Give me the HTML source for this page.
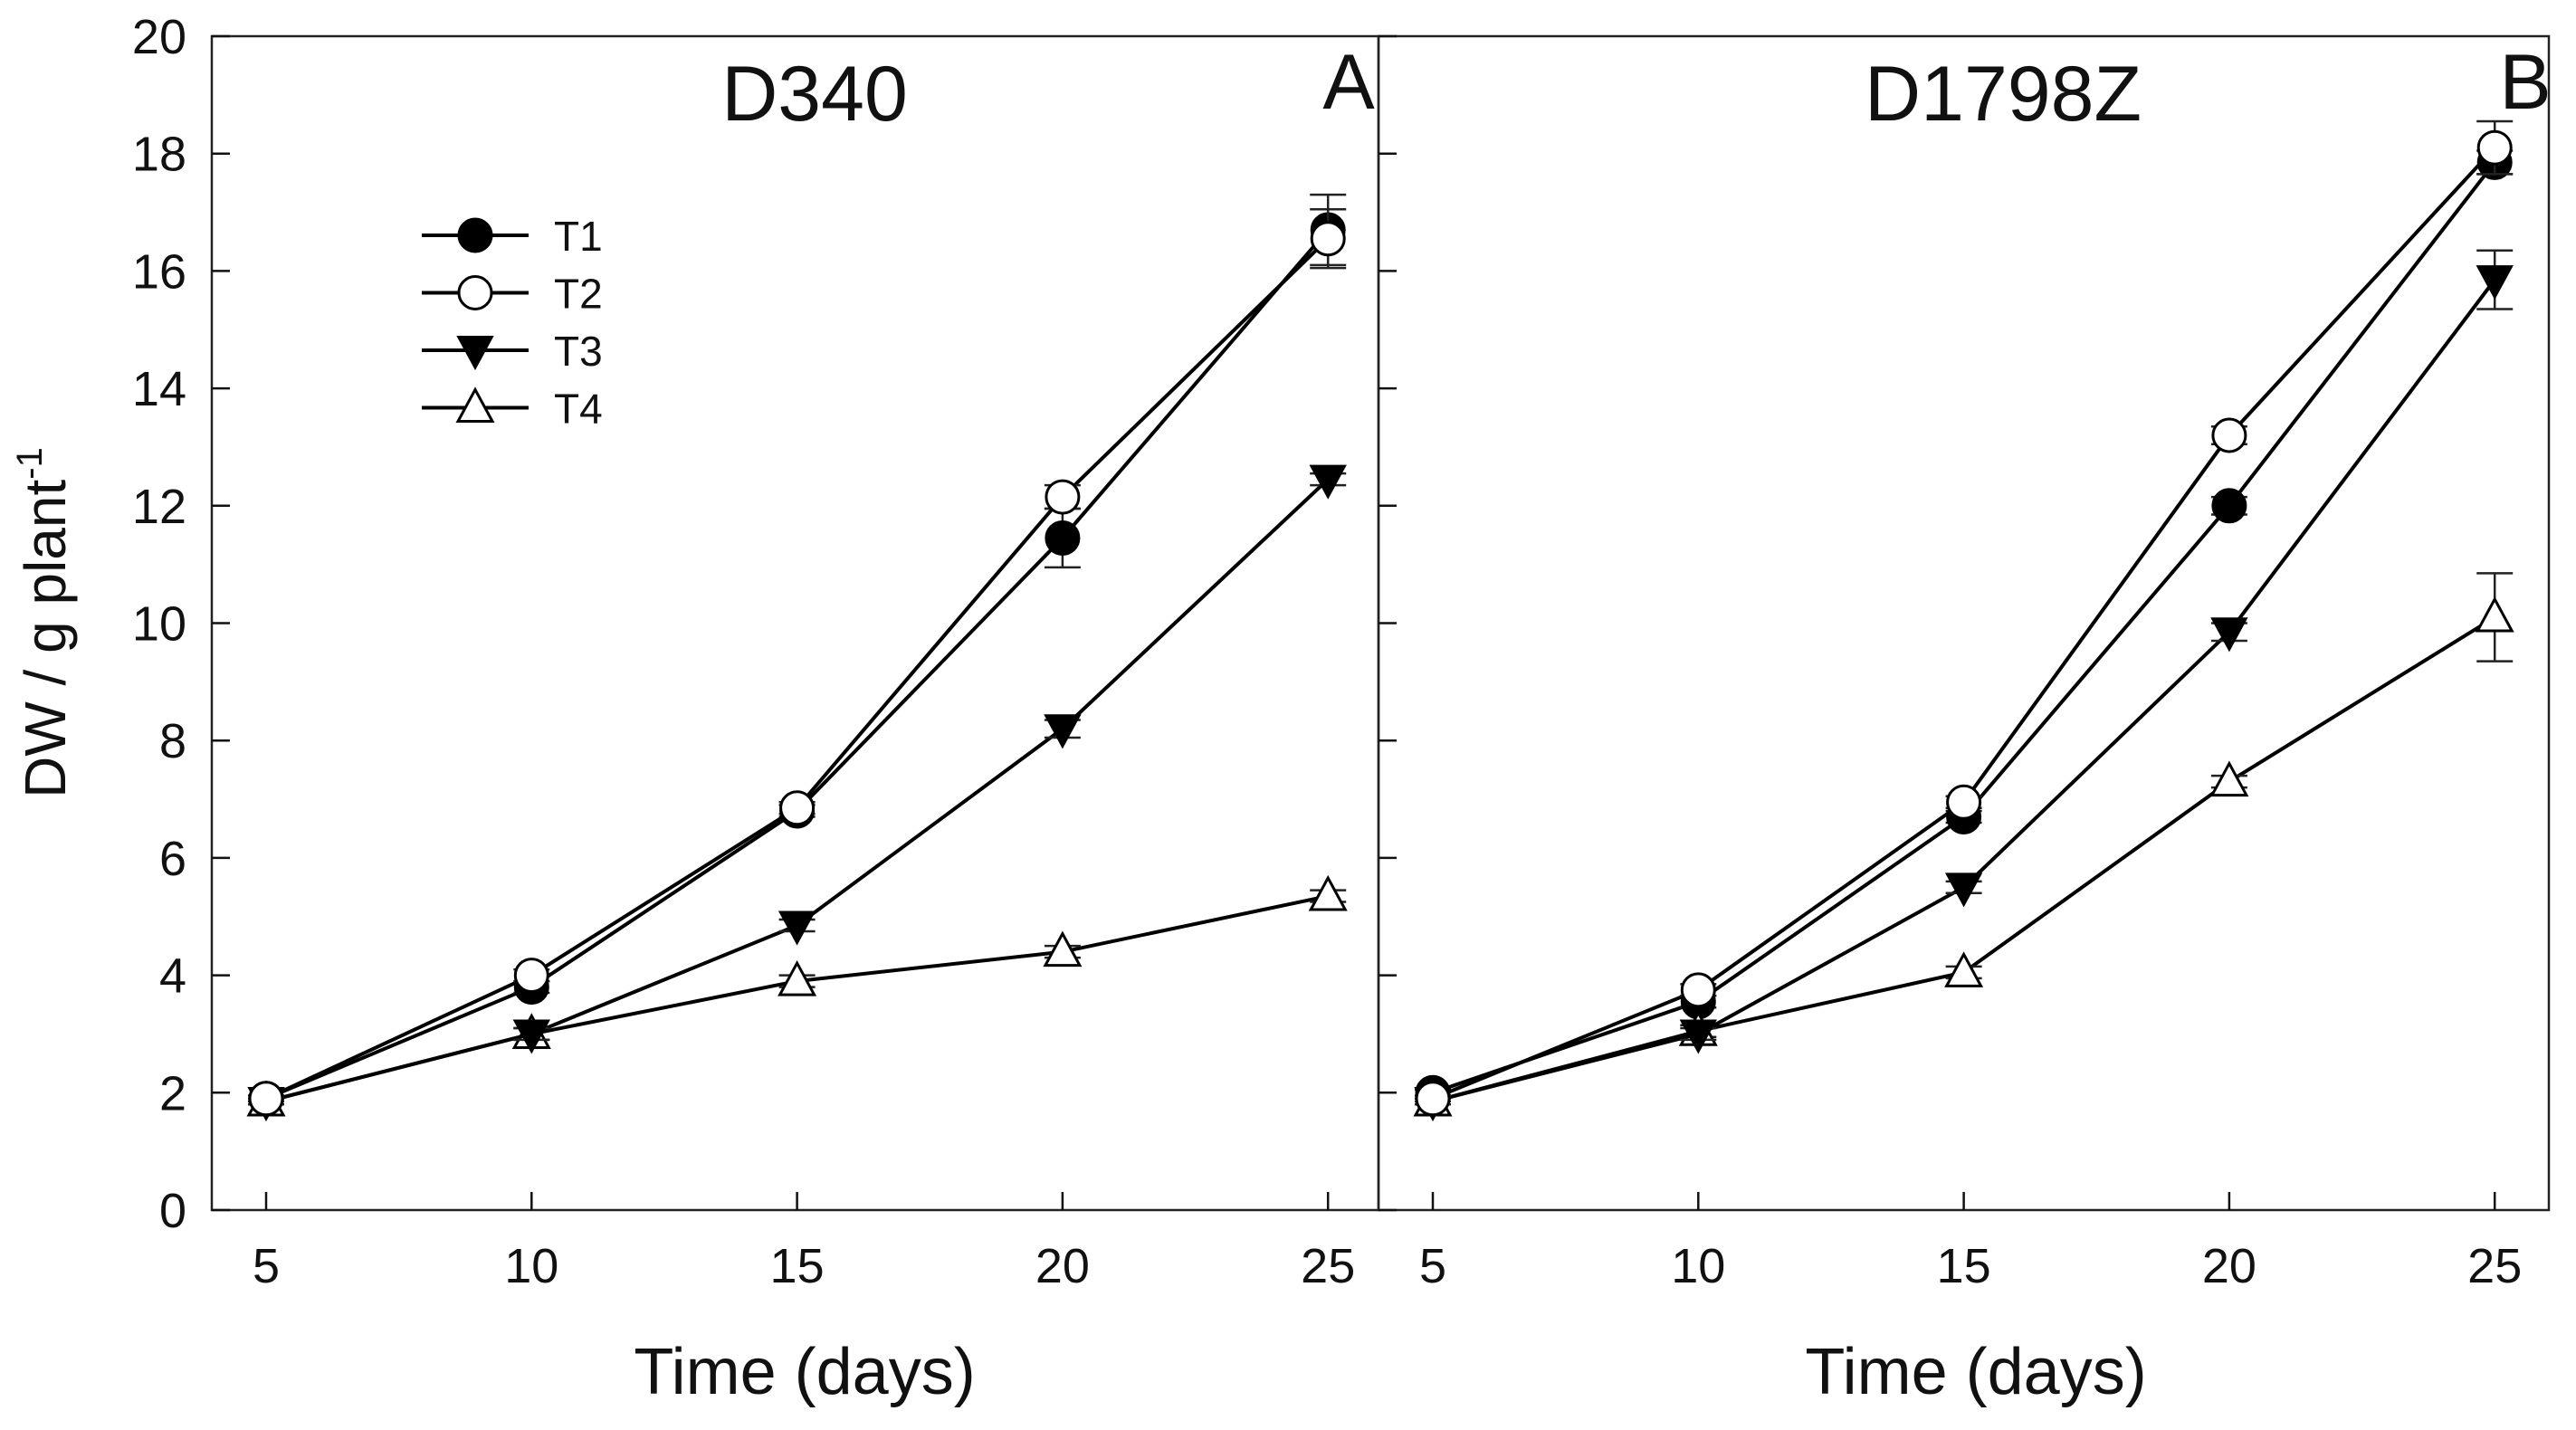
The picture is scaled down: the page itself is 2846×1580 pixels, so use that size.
<!DOCTYPE html>
<html><head><meta charset="utf-8"><style>
html,body{margin:0;padding:0;background:#fff}
svg{display:block;font-family:"Liberation Sans",sans-serif}
</style></head><body>
<svg id="chart" width="2846" height="1580" viewBox="0 0 2846 1580" xmlns="http://www.w3.org/2000/svg"></svg>
<script>
const days = [5, 10, 15, 20, 25];
const yTicks = [0, 2, 4, 6, 8, 10, 12, 14, 16, 18, 20];
const xTickLabels = ["5", "10", "15", "20", "25"];
const seriesNames = ["T1", "T2", "T3", "T4"];
const panelTitles = ["D340", "D1798Z"];
const panelLetters = ["A", "B"];
const d340T1 = [1.9, 3.8, 6.8, 11.45, 16.7];
const d340T2 = [1.9, 4.0, 6.85, 12.15, 16.55];
const d340T3 = [1.85, 3.0, 4.85, 8.2, 12.45];
const d340T4 = [1.85, 3.0, 3.9, 4.4, 5.35];
const d340T1Err = [0.05, 0.1, 0.1, 0.5, 0.6];
const d340T2Err = [0.05, 0.1, 0.1, 0.2, 0.5];
const d340T3Err = [0.05, 0.1, 0.1, 0.15, 0.1];
const d340T4Err = [0.05, 0.1, 0.1, 0.1, 0.1];
const dzT1 = [2.0, 3.55, 6.7, 12.0, 17.85];
const dzT2 = [1.9, 3.75, 6.95, 13.2, 18.1];
const dzT3 = [1.85, 3.0, 5.5, 9.85, 15.85];
const dzT4 = [1.85, 3.05, 4.05, 7.3, 10.1];
const dzT1Err = [0.05, 0.1, 0.1, 0.15, 0.2];
const dzT2Err = [0.05, 0.1, 0.1, 0.15, 0.45];
const dzT3Err = [0.05, 0.1, 0.1, 0.15, 0.5];
const dzT4Err = [0.05, 0.1, 0.1, 0.1, 0.75];

const NS = "http://www.w3.org/2000/svg";
const svg = document.getElementById("chart");
function mk(tag, attrs, parent) {
  const e = document.createElementNS(NS, tag);
  for (const k in attrs) e.setAttribute(k, attrs[k]);
  (parent || svg).appendChild(e);
  return e;
}
const plotTop = 40, plotBottom = 1337;
function yS(v) { return plotBottom - (v / 20) * (plotBottom - plotTop); }
const panels = [
  { left: 234, right: 1523, x5: 294, series: [d340T1, d340T2, d340T3, d340T4], errs: [d340T1Err, d340T2Err, d340T3Err, d340T4Err], titleX: 900, letterX: 1490, axTitleX: 889 },
  { left: 1523, right: 2816, x5: 1583, series: [dzT1, dzT2, dzT3, dzT4], errs: [dzT1Err, dzT2Err, dzT3Err, dzT4Err], titleX: 2213, letterX: 2790, axTitleX: 2183 }
];
const pxPerDay = 293.3 / 5;

function marker(g, kind, x, y) {
  let m;
  if (kind === 0) m = mk("circle", { cx: x, cy: y, r: 18, fill: "#000", stroke: "#000", "stroke-width": 3 }, g);
  else if (kind === 1) m = mk("circle", { cx: x, cy: y, r: 18, fill: "#fff", stroke: "#000", "stroke-width": 3 }, g);
  else if (kind === 2) m = mk("polygon", { points: `${x-19},${y-15} ${x+19},${y-15} ${x},${y+20}`, fill: "#000", stroke: "#000", "stroke-width": 2 }, g);
  else m = mk("polygon", { points: `${x-19},${y+15} ${x+19},${y+15} ${x},${y-20}`, fill: "#fff", stroke: "#000", "stroke-width": 3 }, g);
  return m;
}

panels.forEach((p, pi) => {
  const xS = d => p.x5 + (d - 5) * pxPerDay;
  const g = mk("g", {});
  
  
  const frame = mk("rect", { x: p.left, y: plotTop, width: p.right - p.left, height: plotBottom - plotTop, fill: "none", stroke: "#222", "stroke-width": 2.5 }, g);
  
  
  yTicks.forEach(v => {
    const t = mk("line", { x1: p.left, x2: p.left + 20, y1: yS(v), y2: yS(v), stroke: "#111", "stroke-width": 2.5 }, g);
    
    
    if (pi === 0) {
      const tl = mk("text", { x: 206, y: yS(v) + 19, "font-size": 54, "text-anchor": "end", fill: "#111" }, g);
      tl.textContent = String(v);
      
      
    }
  });
  days.forEach((d, i) => {
    const t = mk("line", { x1: xS(d), x2: xS(d), y1: plotBottom, y2: plotBottom - 20, stroke: "#111", "stroke-width": 2.5 }, g);
    
    
    const tl = mk("text", { x: xS(d), y: 1417, "font-size": 54, "text-anchor": "middle", fill: "#111" }, g);
    tl.textContent = xTickLabels[i];
    
    
  });
  const tt = mk("text", { x: p.titleX, y: 133, "font-size": 86, "text-anchor": "middle", fill: "#111" }, g);
  tt.textContent = panelTitles[pi];
  
  
  const lt = mk("text", { x: p.letterX, y: 120, "font-size": 86, "text-anchor": "middle", fill: "#111" }, g);
  lt.textContent = panelLetters[pi];
  
  
  const at = mk("text", { x: p.axTitleX, y: 1540, "font-size": 72, "text-anchor": "middle", fill: "#111" }, g);
  at.textContent = "Time (days)";
  
  

  [0, 3, 2, 1].forEach(si => {
    const vals = p.series[si], errs = p.errs[si];
    const sg = mk("g", {}, g);
    
    
    const pts = days.map((d, i) => xS(d) + "," + yS(vals[i])).join(" ");
    const pl = mk("polyline", { points: pts, fill: "none", stroke: "#000", "stroke-width": 4 }, sg);
    
    
    days.forEach((d, i) => {
      const x = xS(d), y1 = yS(vals[i] + errs[i]), y2 = yS(vals[i] - errs[i]);
      const eb = mk("path", { d: `M${x},${y1}V${y2}M${x-20},${y1}H${x+20}M${x-20},${y2}H${x+20}`, stroke: "#222", "stroke-width": 2.5, fill: "none" }, sg);
      
      
      const m = marker(sg, si, x, yS(vals[i]));
      
      
    });
  });
});

const lg = mk("g", {});


seriesNames.forEach((n, i) => {
  const y = 260 + i * 63.5;
  const eg = mk("g", {}, lg);
  
  
  mk("line", { x1: 466, x2: 584, y1: y, y2: y, stroke: "#000", "stroke-width": 4 }, eg);
  marker(eg, i, 525, y);
  const t = mk("text", { x: 612, y: y + 17, "font-size": 46, fill: "#111" }, eg);
  t.textContent = n;
});

const yt = mk("text", { x: 0, y: 0, "font-size": 64, "text-anchor": "middle", fill: "#111", transform: "translate(72,688) rotate(-90)" });


yt.innerHTML = 'DW / g plant<tspan dy="-26" font-size="40">-1</tspan>';
</script>
</body></html>
